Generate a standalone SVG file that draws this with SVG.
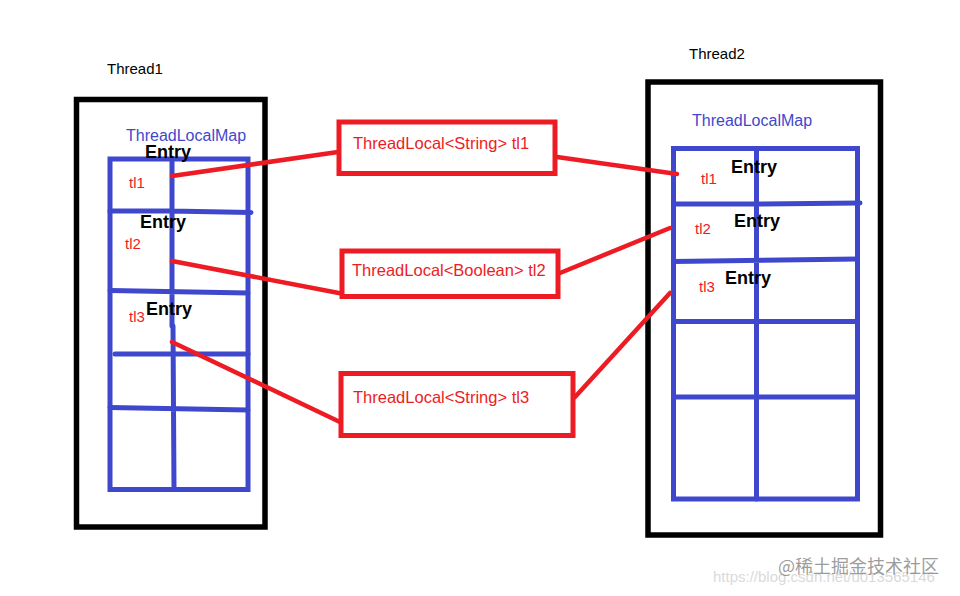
<svg xmlns="http://www.w3.org/2000/svg" width="960" height="596" viewBox="0 0 960 596">
<style>
.thread{fill:none;stroke:#000;stroke-width:5.5}
.grid{fill:none;stroke:#3F48CC;stroke-width:5;stroke-linecap:round;stroke-linejoin:miter}
.box{fill:#fff;stroke:#ED1C24;stroke-width:5}
.conn{fill:none;stroke:#ED1C24;stroke-width:4.5;stroke-linecap:round}
.lbl{font-family:"Liberation Sans",Arial,sans-serif;font-size:15px;fill:#000}
.map{font-family:"Liberation Sans",Arial,sans-serif;font-size:16px;fill:#3F48CC}
.entry{font-family:"Liberation Sans",Arial,sans-serif;font-size:18px;font-weight:bold;fill:#000}
.tl{font-family:"Liberation Sans",Arial,sans-serif;font-size:15px;fill:#ED1C24}
.tlbox{font-family:"Liberation Sans",Arial,sans-serif;font-size:16.5px;fill:#ED1C24}
</style>
<rect width="960" height="596" fill="#fff"/>
<g id="thread1">
<text class="lbl" x="107" y="74">Thread1</text>
<rect class="thread" x="76.5" y="99.5" width="188.5" height="427.5"/>
<rect class="grid" x="110" y="159" width="138" height="330.5"/>
<path class="grid" d="M172,159 L172,326 M173,326 L174,489 M110,211 L170,211 L251,212.5 M110,290.5 L248,293 M115,354 L248,354 M110,407.5 L248,410"/>
<text class="map" x="126" y="141">ThreadLocalMap</text>
<text class="entry" x="145" y="158">Entry</text>
<text class="tl" x="129" y="188">tl1</text>
<text class="entry" x="140" y="228">Entry</text>
<text class="tl" x="125" y="249">tl2</text>
<text class="entry" x="146" y="315">Entry</text>
<text class="tl" x="129" y="322">tl3</text>
</g>
<g id="thread2">
<text class="lbl" x="689" y="59">Thread2</text>
<rect class="thread" x="648" y="82" width="232.5" height="453"/>
<rect class="grid" x="673.5" y="148.5" width="184" height="350.5"/>
<path class="grid" d="M756.5,148.5 V499 M673.5,204 L760,204 L860,203 M673.5,261.5 L857.5,259 M673.5,321.5 H857.5 M673.5,397 H857.5"/>
<text class="map" x="692" y="126">ThreadLocalMap</text>
<text class="entry" x="731" y="173">Entry</text>
<text class="tl" x="701" y="184">tl1</text>
<text class="entry" x="734" y="227">Entry</text>
<text class="tl" x="695" y="234">tl2</text>
<text class="entry" x="725" y="284">Entry</text>
<text class="tl" x="699" y="292">tl3</text>
</g>
<g id="connectors">
<path class="conn" d="M172,176 L338,152"/>
<path class="conn" d="M557,157 L677,174"/>
<path class="conn" d="M172,261 L344,294"/>
<path class="conn" d="M560,273 L670,228"/>
<path class="conn" d="M172,342 L340,422"/>
<path class="conn" d="M575,397 L670,293"/>
</g>
<g id="tl1box">
<rect class="box" x="339" y="122" width="216" height="51.5"/>
<text class="tlbox" x="353" y="149">ThreadLocal&lt;String&gt; tl1</text>
</g>
<g id="tl2box">
<rect class="box" x="342" y="251" width="216" height="45.5"/>
<text class="tlbox" x="352" y="276">ThreadLocal&lt;Boolean&gt; tl2</text>
</g>
<g id="tl3box">
<rect class="box" x="341" y="373.5" width="232" height="62"/>
<text class="tlbox" x="353" y="403">ThreadLocal&lt;String&gt; tl3</text>
</g>
<g id="watermark">
<text x="713" y="582" style="font-family:'Liberation Sans',Arial,sans-serif;font-size:15px;fill:#dadada">https://blog.csdn.net/u013565146</text>
<text x="778" y="573" style="font-family:'Noto Sans CJK SC','Noto Sans',sans-serif;font-size:18px;fill:#8a8a8a;fill-opacity:0.85">@稀土掘金技术社区</text>
</g>
</svg>
